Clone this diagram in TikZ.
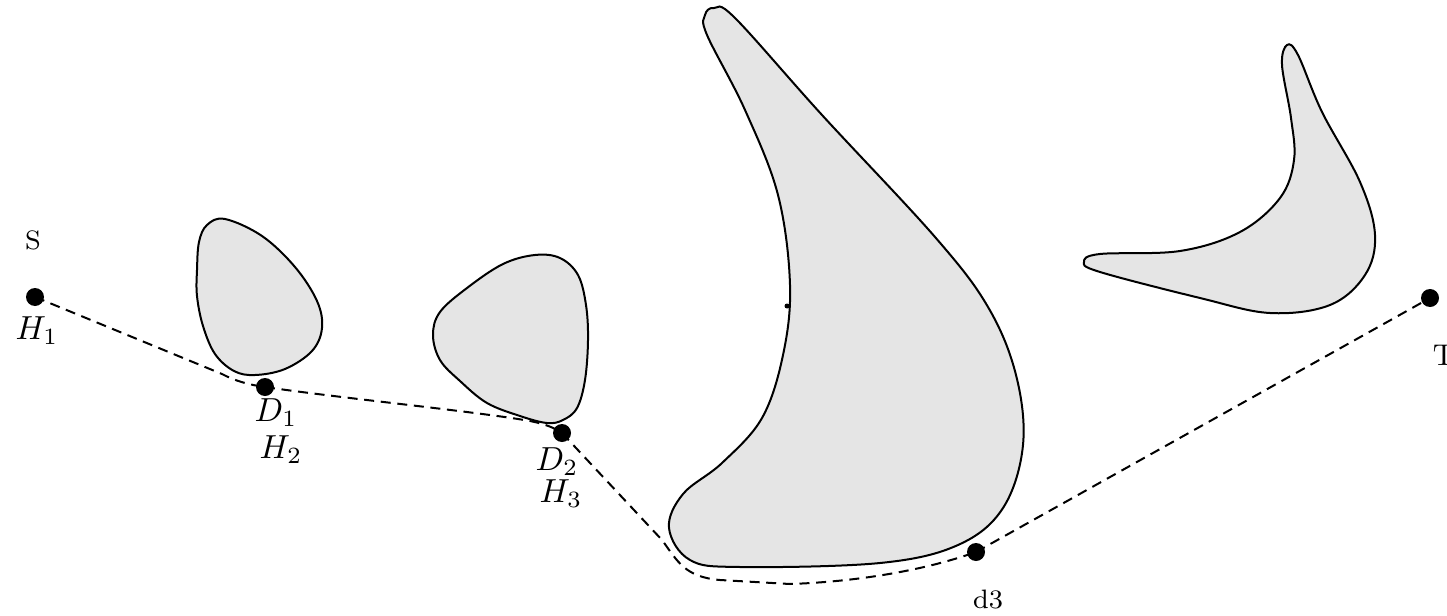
\documentclass[tikz,border=0pt]{standalone}
\usetikzlibrary{calc}
\begin{document}
\begin{tikzpicture}[x=0.3pt,y=-0.3pt,
  obstacle/.style={draw=black,fill=black!10,line width=0.6pt},
  route/.style={draw=black,dashed,dash pattern=on 3pt off 2pt,line width=0.6pt},
  dot/.style={circle,fill=black,inner sep=0pt,minimum size=5.4pt},
  lbl/.style={inner sep=0pt}]
\useasboundingbox (0,0) rectangle (1447,616);
% obstacles
\draw[obstacle] plot[smooth cycle,tension=0.6] coordinates {
  (197,270) (199,242) (207,225) (225,219) (262,236) (295,267) (317,301)
  (322,328) (312,351) (285,369) (255,375) (234,371) (215,354) (203,326) (197,296)};
\draw[obstacle] plot[smooth cycle,tension=0.6] coordinates {
  (547,423) (520,416) (487,403) (460,381) (440,360) (433,335) (440,312)
  (467,288) (503,264) (535,255) (560,258) (578,275) (586,305) (588,340)
  (585,380) (577,408) (563,420)};
\draw[obstacle] plot[smooth cycle,tension=0.6] coordinates {
  (714,8) (705,15) (707,35) (745,110) (778,195) (790,285) (783,355) (762,418)
  (722,463) (683,494) (669,528) (690,560) (740,567) (880,563) (958,545)
  (1003,508) (1023,445) (1016,375) (988,307) (935,237) (822,115) (735,18)};
\fill (787,306) circle (2.5);
\draw[obstacle] plot[smooth cycle,tension=0.6] coordinates {
  (1287,45) (1282,65) (1291,118) (1294,160) (1280,198) (1240,232)
  (1180,251) (1100,254) (1084,262) (1100,272) (1200,298) (1270,313)
  (1330,305) (1365,275) (1375,235) (1360,182) (1322,112) (1298,55)};
% points
\node[dot] (S) at (35,297) {};
\node[dot] (D1) at (265,387) {};
\node[dot] (D2) at (562,433) {};
\node[dot] (d3) at (976,552) {};
\node[dot] (T) at (1430,298) {};
% labels
\node[lbl,font=\footnotesize] (Sl) at (33,240) {S};
\node[lbl] (H1) at (37,331) {$H_1$};
\node[lbl] (D1l) at (276,413) {$D_1$};
\node[lbl] (H2) at (281,450) {$H_2$};
\node[lbl] (D2l) at (557,462) {$D_2$};
\node[lbl] (H3) at (561,494) {$H_3$};
\node[lbl,font=\footnotesize] (d3l) at (988,600) {d3};
\node[lbl,font=\small] (Tl) at (1444,355) {T};
% route
\draw[route] (S.center) -- (222,374) .. controls (235,381) and (250,385) .. (D1.center);
\draw[route] (D1.center) .. controls (340,398) and (480,412) .. (530,421)
  .. controls (545,424) and (555,428) .. (D2.center);
\draw[route] (D2.center) -- (662,540) .. controls (678,562) and (685,577) .. (720,580)
  -- (790,584) .. controls (850,582) and (920,572) .. (d3.center);
\draw[route] (d3.center) -- (T.center);
\end{tikzpicture}
\end{document}
